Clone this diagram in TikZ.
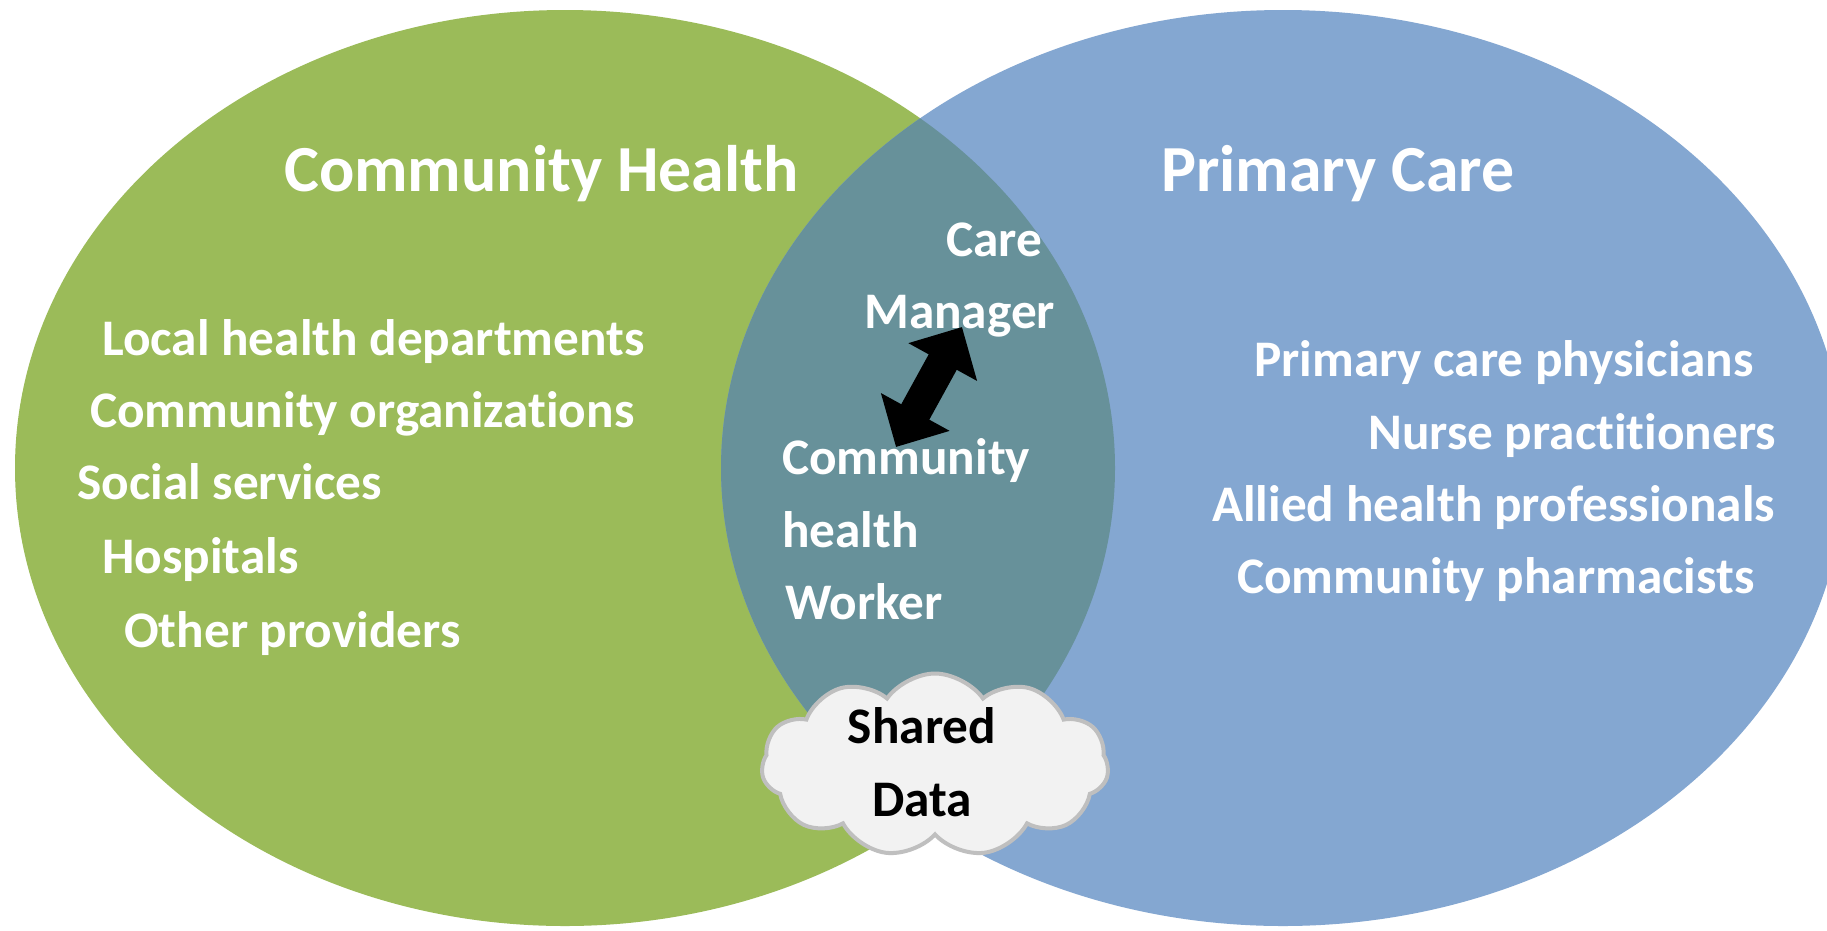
\documentclass[tikz,border=0pt]{standalone}
\usepackage{fontspec}
\setmainfont{Carlito}[Ligatures={NoCommon,NoContextual,NoRequired},Contextuals=NoAlternate]
\usetikzlibrary{shapes.symbols,arrows.meta}
\definecolor{chgreen}{HTML}{9BBB59}
\definecolor{pcblue}{HTML}{84A7D1}
\definecolor{overlap}{HTML}{67919A}
\definecolor{cloudfill}{HTML}{F2F2F2}
\definecolor{cloudline}{HTML}{BFBFBF}
\newcommand{\nolig}{\kern0pt{}}
\tikzset{
  title/.style={anchor=base west, inner sep=0pt, text=white, font=\fontsize{65.8}{72}\selectfont\bfseries},
  item/.style={anchor=base west, inner sep=0pt, text=white, font=\fontsize{51.3}{72}\selectfont\bfseries},
  datatext/.style={anchor=base, inner sep=0pt, text=black, font=\fontsize{51.3}{72}\selectfont\bfseries},
  cloudbox/.style={cloud, cloud puffs=11, cloud puff arc=110, aspect=1.9, fill=cloudfill, draw=cloudline, line width=4pt, minimum width=347pt, minimum height=183pt, inner sep=0pt},
  linkarrow/.style={line width=32pt, draw=black, {Triangle[length=40pt,width=76pt]}-{Triangle[length=40pt,width=76pt]}}
}
\begin{document}
\begin{tikzpicture}[x=1pt,y=-1pt]
\useasboundingbox (0,0) rectangle (1827,930);
\fill[white] (0,0) rectangle (1827,930);
% circles
\fill[chgreen] (565,468) ellipse [x radius=550, y radius=458];
\fill[pcblue] (1283,468) ellipse [x radius=562, y radius=458];
\begin{scope}
  \clip (565,468) ellipse [x radius=550, y radius=458];
  \fill[overlap] (1283,468) ellipse [x radius=562, y radius=458];
\end{scope}
% titles
\node[title] (tch) at (284,191) {Community Health};
\node[title] (tpc) at (1161,191) {Primary Care};
% left list
\node[item] (l1) at (102,355) {Local health departments};
\node[item] (l2) at (90,427) {Community organizat\nolig ions};
\node[item] (l3) at (77,499) {Social services};
\node[item] (l4) at (102,573) {Hospitals};
\node[item] (l5) at (124,647) {Other providers};
% right list
\node[item] (r1) at (1254,376) {Primary care physicians};
\node[item] (r2) at (1368,449) {Nurse pract\nolig it\nolig ioners};
\node[item] (r3) at (1212,521) {Allied health professionals};
\node[item] (r4) at (1237,593) {Community pharmacists};
% middle
\node[item] (m1) at (946,256) {Care};
\node[item] (m2) at (864,328) {Manager};
\node[item] (m3) at (782,474) {Community};
\node[item] (m4) at (782,547) {health};
\node[item] (m5) at (785,619) {Worker};
% arrow
\coordinate (cmtip) at (962,327);
\coordinate (chwtip) at (896,447);
\draw[linkarrow] (cmtip) -- (chwtip);
% cloud
\node[cloudbox] (cloud) at (935,765) {};
\node[datatext] (sd1) at (922,743) {Shared};
\node[datatext] (sd2) at (922,816) {Data};
\end{tikzpicture}
\end{document}
